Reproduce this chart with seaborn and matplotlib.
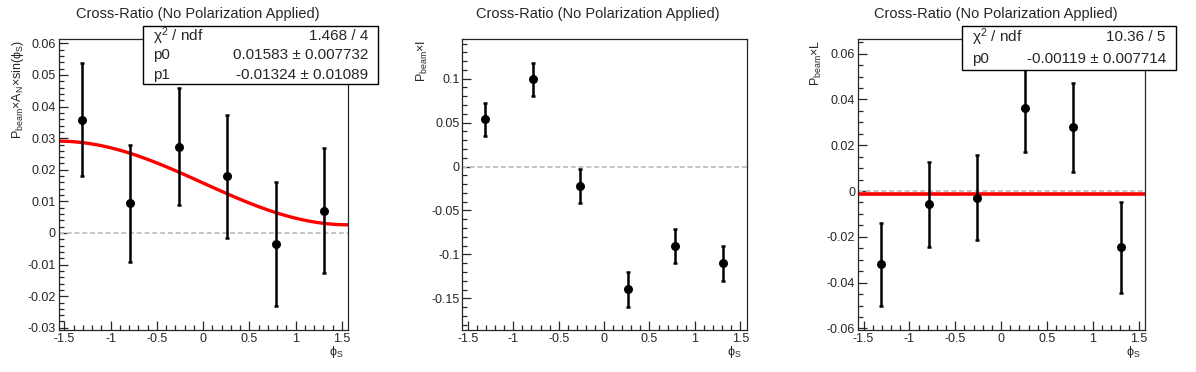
import numpy as np
import pandas as pd
import matplotlib
matplotlib.use("Agg")
import matplotlib.pyplot as plt
from matplotlib.patches import Rectangle
from matplotlib.ticker import MultipleLocator, FormatStrFormatter
import seaborn as sns

# bin centres of phi_S (6 bins over -pi/2..pi/2)
phi = [-1.309, -0.785, -0.262, 0.262, 0.785, 1.309]

# left: P_beam x A_N x sin(phi_S)
an_val = [0.0359, 0.0094, 0.0273, 0.0179, -0.0036, 0.0071]
an_err = [0.0180, 0.0186, 0.0186, 0.0195, 0.0196, 0.0197]
an_p0, an_p1 = 0.01583, -0.01324

# middle: P_beam x I
i_val = [0.0537, 0.0992, -0.0222, -0.1398, -0.0901, -0.1102]
i_err = [0.0185, 0.0186, 0.0190, 0.0195, 0.0193, 0.0199]

# right: P_beam x L
l_val = [-0.0320, -0.0058, -0.0029, 0.0361, 0.0278, -0.0246]
l_err = [0.0181, 0.0187, 0.0186, 0.0190, 0.0196, 0.0199]
l_p0 = -0.00119

title = "Cross-Ratio (No Polarization Applied)"
ylabels = [r"P$_\mathregular{beam}$×A$_\mathregular{N}$×sin(ϕ$_\mathregular{S}$)",
           r"P$_\mathregular{beam}$×I",
           r"P$_\mathregular{beam}$×L"]
xlabel = r"ϕ$_\mathregular{S}$"

sns.set_style("ticks")
plt.rcParams['font.family'] = ['Liberation Sans', 'DejaVu Sans']
plt.rcParams['mathtext.default'] = 'regular'

fig = plt.figure(figsize=(11.96, 3.72), dpi=100)

bot, hgt = 0.1129, 0.7815
ax_pos = [[0.0491, bot, 0.2421, hgt],
          [0.3867, bot, 0.2375, hgt],
          [0.7174, bot, 0.2400, hgt]]
title_x = [0.1656, 0.4996, 0.8325]
ylab_x = [0.015, 0.353, 0.683]
ylims = [(-0.0307, 0.0613), (-0.186, 0.1448), (-0.0607, 0.0663)]
majors = [0.01, 0.05, 0.02]
minors = [0.002, 0.01, 0.005]
vals = [an_val, i_val, l_val]
errs = [an_err, i_err, l_err]

axes = []
for k in range(3):
    ax = fig.add_axes(ax_pos[k])
    axes.append(ax)
    df = pd.DataFrame({"phi": phi, "val": vals[k], "err": errs[k]})
    ax.axhline(0, color="#c4c4c4", lw=1.4, ls=(0, (2.5, 1.5)), zorder=1)
    ax.errorbar(df["phi"], df["val"], yerr=df["err"], fmt="none",
                ecolor="black", elinewidth=1.8, capsize=1.6, capthick=1.8, zorder=3)
    sns.scatterplot(data=df, x="phi", y="val", ax=ax, color="black", s=42,
                    edgecolor="black", linewidth=0, zorder=4)
    ax.set_xlim(-1.56, 1.57)
    ax.set_ylim(*ylims[k])
    ax.xaxis.set_major_locator(MultipleLocator(0.5))
    ax.xaxis.set_minor_locator(MultipleLocator(0.1))
    ax.yaxis.set_major_locator(MultipleLocator(majors[k]))
    ax.yaxis.set_minor_locator(MultipleLocator(minors[k]))
    ax.xaxis.set_major_formatter(FormatStrFormatter("%g"))
    ax.yaxis.set_major_formatter(FormatStrFormatter("%g"))
    ax.tick_params(which="both", direction="in", top=False, right=False,
                   width=0.9, labelsize=9, pad=2)
    ax.tick_params(which="major", length=6.8)
    ax.tick_params(which="minor", length=3.4)
    for s in ax.spines.values():
        s.set_linewidth(0.9)
        s.set_visible(True)
    fig.text(title_x[k], 0.962, title, ha="center", va="center", fontsize=10.5)
    fig.text(ylab_x[k], 1 - 39.5 / 372, ylabels[k], rotation=90,
             ha="center", va="top", fontsize=9)
    x0, w = ax_pos[k][0], ax_pos[k][2]
    fig.text(x0 + w - 0.004, 0.054, xlabel, ha="right", va="center", fontsize=9)

# fit curves
fx = np.linspace(-np.pi / 2, np.pi / 2, 120)
fit_an = pd.DataFrame({"x": fx, "y": an_p0 + an_p1 * np.sin(fx)})
sns.lineplot(data=fit_an, x="x", y="y", ax=axes[0], color="red", lw=2.4, zorder=2)
fit_l = pd.DataFrame({"x": fx, "y": np.full_like(fx, l_p0)})
sns.lineplot(data=fit_l, x="x", y="y", ax=axes[2], color="red", lw=2.6, zorder=2)
for ax in axes:
    ax.set_xlabel("")
    ax.set_ylabel("")


def stat_box(x0, x1, ytop, ybot, rows):
    fig.patches.append(Rectangle((x0, ybot), x1 - x0, ytop - ybot,
                                 transform=fig.transFigure, facecolor="white",
                                 edgecolor="black", lw=1.0, zorder=10))
    n = len(rows)
    dh = (ytop - ybot) / n
    for j, (name, val) in enumerate(rows):
        yc = ytop - dh * (j + 0.5)
        fig.text(x0 + 0.0085, yc, name, ha="left", va="center", fontsize=11, zorder=11)
        fig.text(x1 - 0.0085, yc, val, ha="right", va="center", fontsize=11, zorder=11)


stat_box(0.1198, 0.3163, 0.930, 0.7734,
         [(r"χ$^2$ / ndf", "1.468 / 4"),
          ("p0", "0.01583 ± 0.007732"),
          ("p1", "-0.01324 ± 0.01089")])
stat_box(0.8041, 0.9833, 0.930, 0.811,
         [(r"χ$^2$ / ndf", "10.36 / 5"),
          ("p0", "-0.00119 ± 0.007714")])

fig.savefig("out.png", dpi=100, facecolor="white")
